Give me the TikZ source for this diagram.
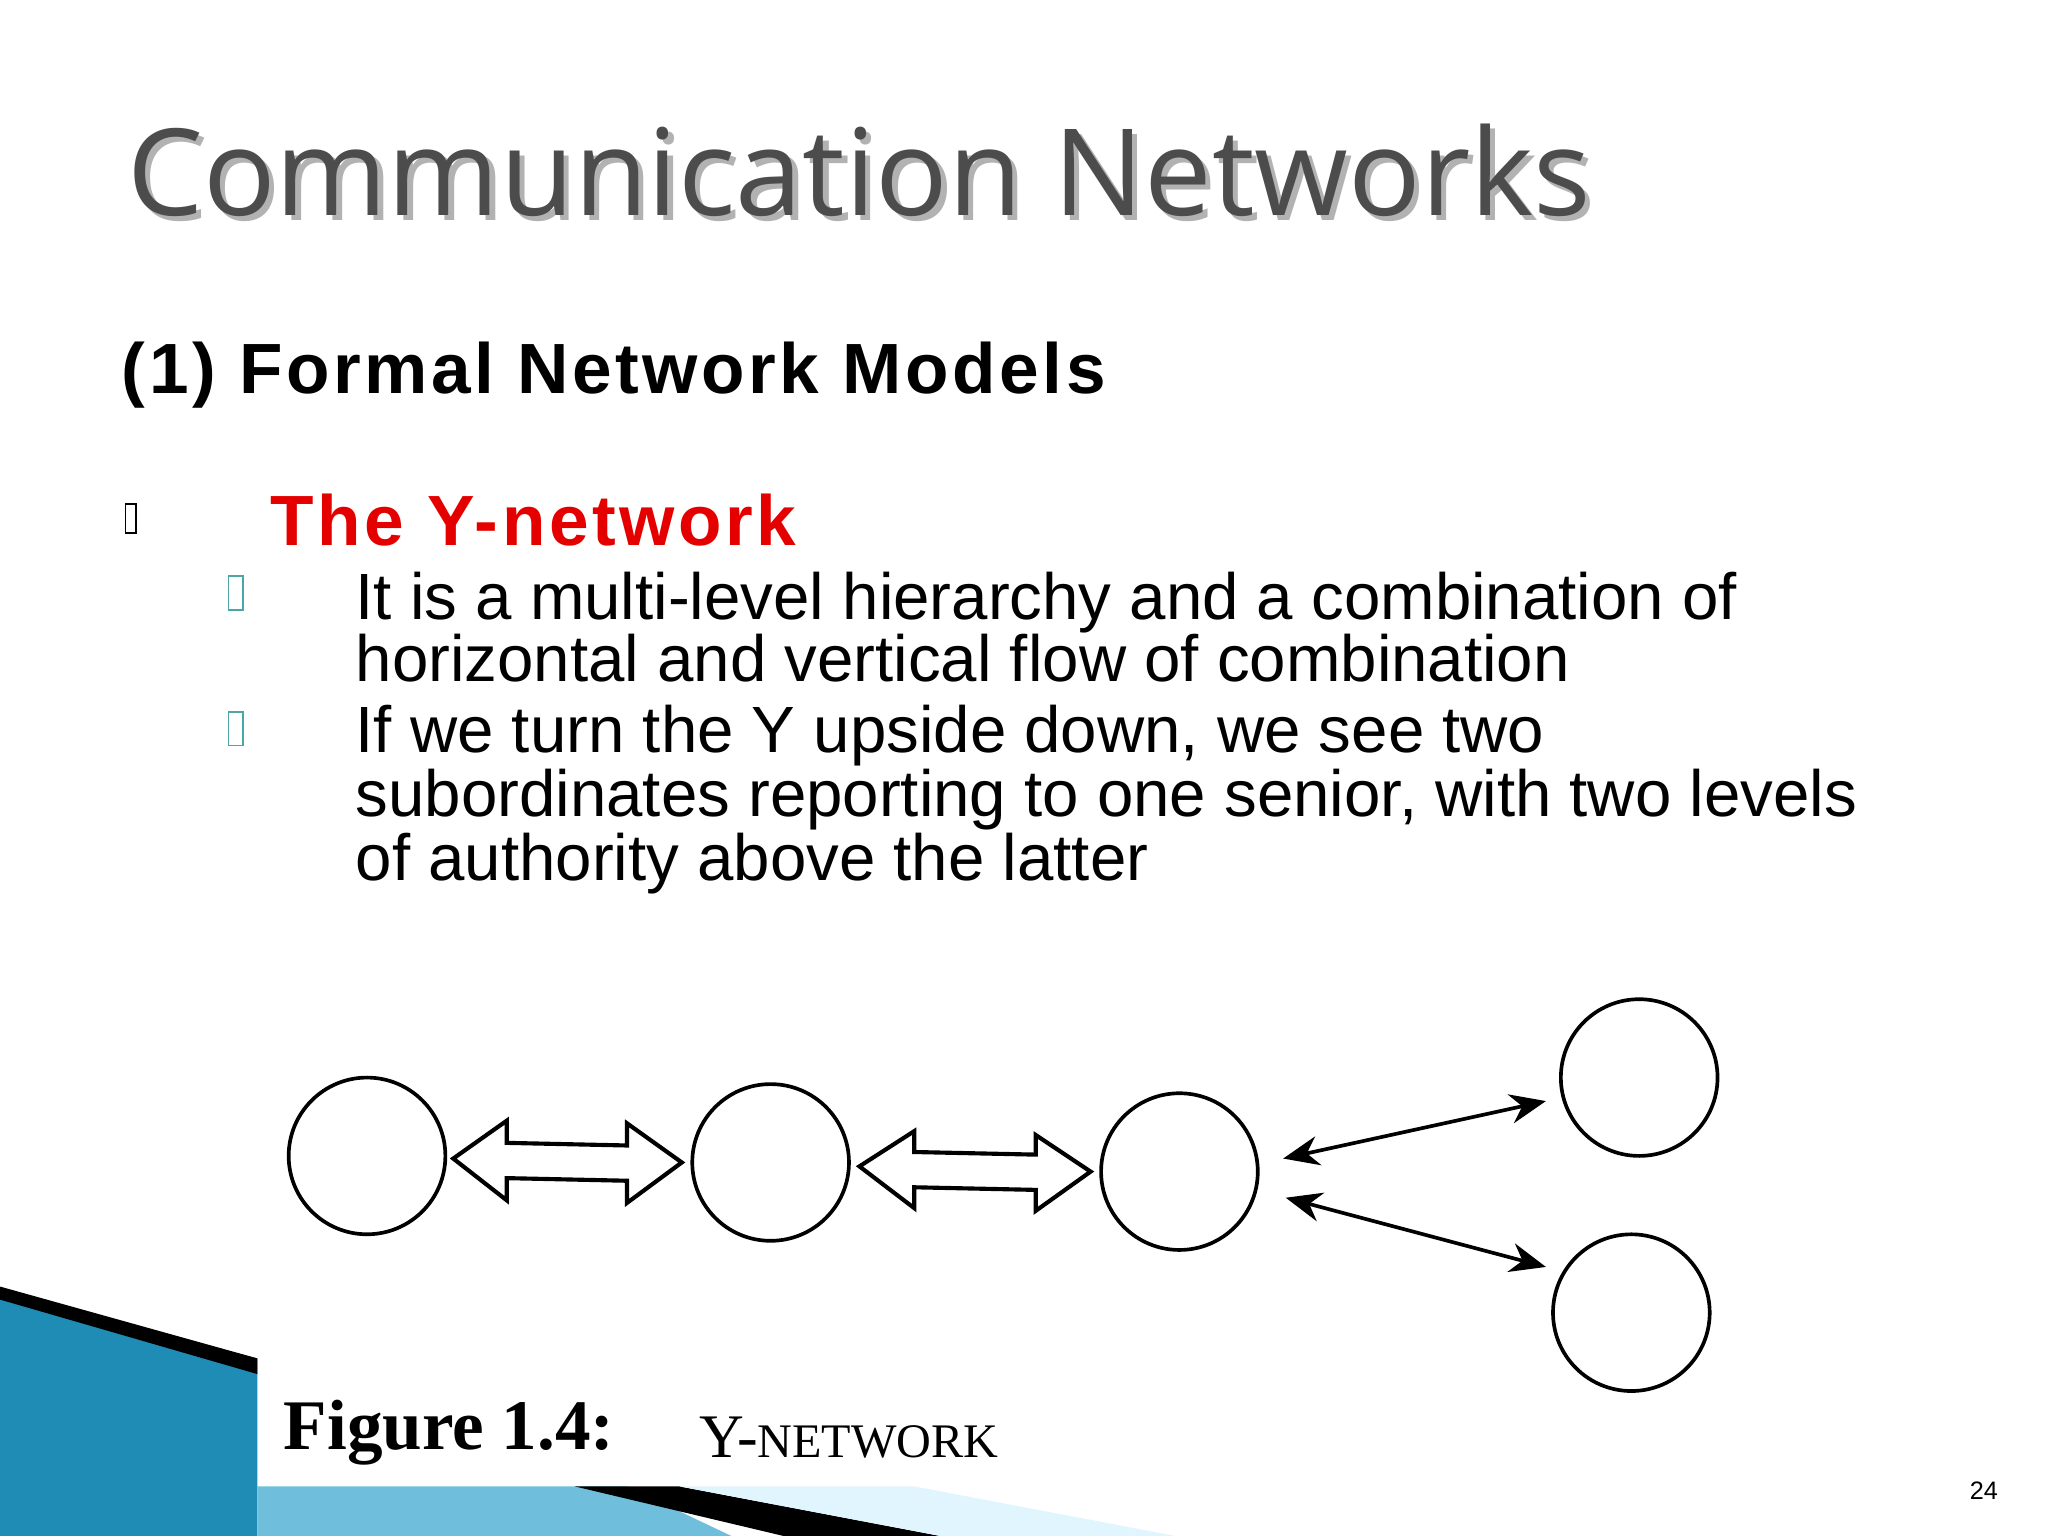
\documentclass[tikz,border=0pt]{standalone}
\usepackage{fontspec}
\setmainfont{Liberation Sans}
\newfontfamily\titlefont{Open Sans}
\newfontfamily\headfont[LetterSpace=5]{Liberation Sans}
\newfontfamily\figfont{Liberation Serif}
\usetikzlibrary{arrows.meta}
\definecolor{deco}{RGB}{30,140,180}
\definecolor{decolt}{RGB}{110,190,220}
\begin{document}
\begin{tikzpicture}[x=0.02cm,y=-0.02cm,
  circ/.style={draw,line width=1.6pt,circle,minimum size=2.4cm,inner sep=0},
  dblarrow/.style={draw,line width=1.8pt,line join=miter,fill=white},
  lnk/.style={line width=1.6pt,{Stealth[length=0.55cm,width=0.45cm]}-{Stealth[length=0.55cm,width=0.45cm]}},
  body/.style={anchor=base west,font=\fontsize{28.5}{32}\selectfont,inner sep=0},
  gbox/.style={draw=#1,line width=0.6pt}]
\useasboundingbox (0,0) rectangle (1568,1176);
% decoration
\fill[deco] (0,990) -- (197,1040) -- (197,1176) -- (0,1176) -- cycle;
\fill[decolt] (197,1138) -- (480,1138) -- (560,1176) -- (197,1176) -- cycle;
\fill[black] (440,1138) -- (520,1138) -- (720,1176) -- (600,1176) -- cycle;
\fill[cyan!12] (520,1138) -- (700,1138) -- (900,1176) -- (720,1176) -- cycle;
\fill[black] (0,985) -- (197,1040) -- (197,1052) -- (0,995) -- cycle;
% title
\node[anchor=base west,inner sep=0,font=\titlefont\fontsize{52.5}{57}\selectfont,text=black!30] at (101,169) {Communication Networks};
\node[anchor=base west,inner sep=0,font=\titlefont\fontsize{52.5}{57}\selectfont,text=black!70] (title) at (97,165) {Communication Networks};
\node[anchor=base west,inner sep=0,font=\headfont\bfseries\fontsize{31}{35}\selectfont,text=black] (h1) at (93,301) {(1) Formal Network Models};
\draw[gbox=black] (96,386) rectangle (104,408);
\node[anchor=base west,inner sep=0,font=\headfont\bfseries\fontsize{31}{35}\selectfont,text=red!90!black] (h2) at (207,418) {The Y-network};
\draw[gbox=teal!70] (175,441) rectangle (186,467);
\draw[gbox=teal!70] (175,545) rectangle (186,571);
\node[body] at (272,474) {It is a multi-level hierarchy and a combination of};
\node[body] at (272,522) {horizontal and vertical flow of combination};
\node[body] at (272,576) {If we turn the Y upside down, we see two};
\node[body] at (272,625) {subordinates reporting to one senior, with two levels};
\node[body] at (272,674) {of authority above the latter};
% figure
\node[circ] (c1) at (281,885) {};
\node[circ] (c2) at (590,890) {};
\node[circ] (c3) at (903,897) {};
\node[circ] (c4) at (1255,825) {};
\node[circ] (c5) at (1249,1005) {};
\draw[dblarrow] (347,887) -- (388,858) -- (388,875) -- (480,877) -- (480,860) -- (522,890)
  -- (480,921) -- (480,904) -- (388,902) -- (388,919) -- cycle;
\draw[dblarrow] (658,893) -- (700,866) -- (700,882) -- (793,884) -- (793,869) -- (835,897)
  -- (793,927) -- (793,911) -- (700,909) -- (700,925) -- cycle;
\draw[lnk] ([shift={(18,-10)}]c3.east) -- ([shift={(-10,18)}]c4.west);
\draw[lnk] ([shift={(20,20)}]c3.east) -- ([shift={(-4,-35)}]c5.west);
\node[anchor=base west,inner sep=0,font=\figfont\bfseries\fontsize{31}{35}\selectfont] (fig) at (217,1110) {Figure 1.4:};
\node[anchor=base west,inner sep=0,font=\figfont\fontsize{27}{30}\selectfont] (yn) at (535,1116) {Y-{\fontsize{21}{24}\selectfont NETWORK}};
\node[anchor=base east,inner sep=0,font=\fontsize{11}{13}\selectfont] (pg) at (1530,1148) {24};
\end{tikzpicture}
\end{document}
